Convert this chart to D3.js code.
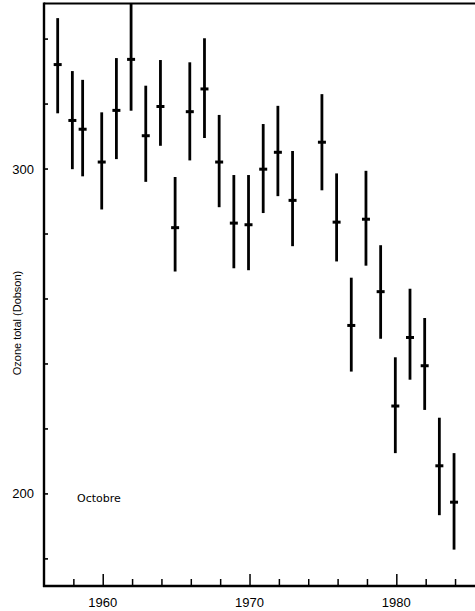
<!DOCTYPE html>
<html><head><meta charset="utf-8">
<script src="https://cdn.jsdelivr.net/npm/d3@7"></script>
<style>html,body{margin:0;padding:0;background:#fff;}svg{display:block;}</style>
</head><body>
<svg id="chart" width="475" height="611"></svg>
<script>
const years = [1957,1958,1958.7,1960,1961,1962,1963,1964,1965,1966,1967,1968,1969,1970,1971,1972,1973,1975,1976,1977,1978,1979,1980,1981,1982,1983,1984];
const means = [332.0,314.8,312.1,302.0,317.9,333.6,310.1,319.1,281.8,317.5,324.5,302.0,283.2,282.7,299.8,305.0,290.2,308.1,283.5,251.7,284.4,262.1,226.9,248.0,239.3,208.5,197.3];
const highs = [346.3,330.0,327.3,317.3,334.0,351.0,325.5,333.4,297.4,332.7,340.1,316.5,298.0,298.0,313.7,319.3,305.4,322.9,298.5,266.4,299.3,276.4,241.9,263.0,254.0,223.3,212.4];
const lows  = [317.0,299.8,297.6,287.4,302.9,317.8,295.9,307.0,268.3,302.5,309.4,288.1,269.3,268.7,286.3,291.5,276.1,293.3,271.4,237.5,270.1,247.6,212.4,235.0,225.7,193.3,182.7];
const yTicks = [180,200,220,240,260,280,300,320,340];
const yLabels = [200,300];
const xTicks = [1958,1960,1962,1964,1966,1968,1970,1972,1974,1976,1978,1980,1982,1984];
const xLabels = [1960,1970,1980];
const yTitle = "Ozone total (Dobson)";
const note = "Octobre";

const svg = d3.select("#chart");
const mLeft = 44, mRight = 475, mTop = 3.5, mBottom = 586;
const x = d3.scaleLinear().domain([1956, 1986]).range([mLeft, mLeft + 30*14.68]);
const y = d3.scaleLinear().domain([171.5, 350.8]).range([mBottom, mTop]);

// frame
svg.append("line").attr("x1", mLeft).attr("x2", mRight).attr("y1", mTop).attr("y2", mTop)
  .attr("stroke", "#000").attr("stroke-width", 2.2);

// y axis
const yAxis = d3.axisRight(y).tickValues(yTicks).tickSize(4)
  .tickFormat(d => yLabels.includes(d) ? d : "");
const gy = svg.append("g").attr("transform", `translate(${mLeft},0)`).call(yAxis);
gy.select(".domain").remove();
gy.selectAll(".tick line").attr("stroke", "#000").attr("stroke-width", 1.6);
gy.selectAll(".tick text").attr("x", -10).attr("text-anchor", "end")
  .attr("font-family", "'Liberation Sans Narrow','Arial Narrow','Liberation Sans',sans-serif")
  .attr("font-size", 13).attr("fill", "#000").attr("dy", "0.35em");
svg.append("line").attr("x1", mLeft).attr("x2", mLeft).attr("y1", mTop - 1).attr("y2", mBottom + 1)
  .attr("stroke", "#000").attr("stroke-width", 2.4);

// x axis
const xAxis = d3.axisTop(x).tickValues(xTicks)
  .tickSizeInner(0).tickSizeOuter(0).tickFormat("");
const gx = svg.append("g").attr("transform", `translate(0,${mBottom})`).call(xAxis);
gx.select(".domain").remove();
gx.selectAll(".tick line").attr("y2", d => xLabels.includes(d) ? -12 : -7)
  .attr("stroke", "#000").attr("stroke-width", 1.5);
svg.append("line").attr("x1", mLeft - 1).attr("x2", mRight).attr("y1", mBottom).attr("y2", mBottom)
  .attr("stroke", "#000").attr("stroke-width", 2.6);
svg.append("g").selectAll("text").data(xLabels).join("text")
  .attr("x", d => x(d)).attr("y", 602).attr("dy", "0.35em").attr("text-anchor", "middle")
  .attr("font-family", "'Liberation Sans Narrow','Arial Narrow','Liberation Sans',sans-serif")
  .attr("font-size", 13).attr("fill", "#000").text(d => d);

// y title
svg.append("text").attr("transform", "translate(17,323) rotate(-90)")
  .attr("text-anchor", "middle").attr("dy", "0.35em")
  .attr("font-family", "'Liberation Sans','Arial',sans-serif").attr("font-size", 11)
  .attr("fill", "#000").text(yTitle);

// note
svg.append("text").attr("x", 77).attr("y", 498).attr("dy", "0.35em")
  .attr("font-family", "'DejaVu Sans','Liberation Sans',sans-serif").attr("font-size", 11)
  .attr("fill", "#000").text(note);

// error bars
const data = years.map((yr, i) => ({yr, m: means[i], hi: highs[i], lo: lows[i]}));
const g = svg.append("g");
g.selectAll("line.bar").data(data).join("line").attr("class", "bar")
  .attr("x1", d => x(d.yr) - 1).attr("x2", d => x(d.yr) - 1)
  .attr("y1", d => y(Math.min(d.hi, 350.8))).attr("y2", d => y(d.lo))
  .attr("stroke", "#000").attr("stroke-width", 2.8);
g.selectAll("line.mean").data(data).join("line").attr("class", "mean")
  .attr("x1", d => x(d.yr) - 5).attr("x2", d => x(d.yr) + 3)
  .attr("y1", d => y(d.m)).attr("y2", d => y(d.m))
  .attr("stroke", "#000").attr("stroke-width", 3);
</script>
</body></html>
